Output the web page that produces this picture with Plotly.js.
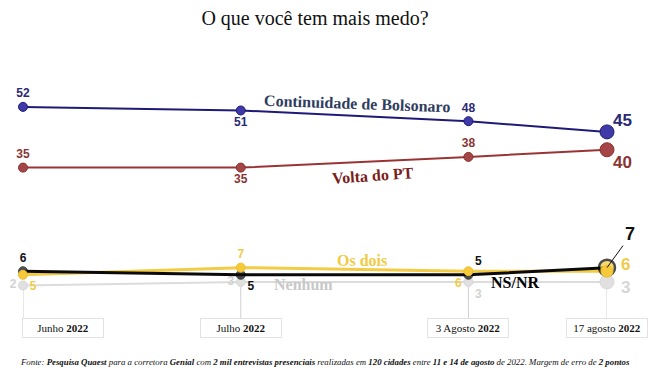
<!DOCTYPE html>
<html><head><meta charset="utf-8">
<script src="https://cdn.plot.ly/plotly-3.0.1.min.js"></script>
<style>body{margin:0;background:#fff}#c{width:650px;height:372px}</style>
</head><body><div id="c"></div>
<script>
// Data
const surveyDates = ['2022-06-19','2022-07-11','2022-08-03','2022-08-17'];
const tickLabels = ['Junho <b>2022</b>','Julho <b>2022</b>','3 Agosto <b>2022</b>','17 agosto <b>2022</b>'];
const bolsonaro = [52, 51, 48, 45];
const voltaPT = [35, 35, 38, 40];
const osDois = [5, 7, 6, 6];
const nsnr = [6, 5, 5, 7];
const nenhum = [2, 3, 3, 3];

const serif = 'Liberation Serif, Times New Roman, serif';
const sans = 'Liberation Sans, Arial, sans-serif';
const last = surveyDates.length - 1;

function lineTrace(y, color, width) {
  return {x: surveyDates, y: y, type: 'scatter', mode: 'lines', line: {color: color, width: width},
          cliponaxis: false, hoverinfo: 'skip', showlegend: false};
}
function markTrace(y, markerColor, outline, textColor, pos, big) {
  return {
    x: surveyDates, y: y, type: 'scatter', mode: 'markers+text',
    marker: {color: markerColor, opacity: 1, size: y.map((_, i) => i === last ? big : 9),
             line: {width: 1, color: outline}},
    text: y.map((v, i) => i === last ? '' : String(v)),
    textposition: pos,
    textfont: {family: sans, color: textColor, size: 12, weight: 700},
    cliponaxis: false, hoverinfo: 'skip', showlegend: false
  };
}

const traces = [
  lineTrace(nenhum, '#dcdcdc', 2),
  markTrace(nenhum, '#e0e0e0', '#d8d8d8', '#d2d2d2', ['middle left','middle left','bottom right','bottom right'], 14),
  lineTrace(osDois, '#f3cc45', 3),
  lineTrace(nsnr, '#0a0a0a', 3),
  Object.assign(markTrace(nsnr, '#0a0a0a', '#000', '#111111', ['top center','bottom right','top right','top center'], 16),
                {marker: {color: nsnr.map((_, i) => i === last ? '#f5c93a' : '#0a0a0a'), size: nsnr.map((_, i) => i === last ? 16 : 9),
                          line: {color: '#000', width: nsnr.map((_, i) => i === last ? 2.5 : 1)}}}),
  markTrace(osDois, '#f5c93a', '#eec035', '#f0cb4a', ['bottom right','top center','bottom left','middle right'], 12),
  lineTrace(voltaPT, '#9a3434', 2),
  markTrace(voltaPT, '#a54646', '#8a2e2e', '#8b3434', ['top center','bottom center','top center','bottom right'], 14),
  lineTrace(bolsonaro, '#1e1a78', 2),
  markTrace(bolsonaro, '#3f3aa8', '#1e1a78', '#2a2975', ['top center','bottom center','top center','top right'], 14)
];

const shapes = surveyDates.map((d, i) => ({
  type: 'line', xref: 'x', yref: 'y', x0: d, x1: d, y0: nenhum[i], y1: -7.1,
  line: {color: '#d0d0d0', width: 1}, layer: 'below'
}));

const annotations = surveyDates.map((d, i) => ({
  x: d, xref: 'x', y: 0, yref: 'paper', yanchor: 'top', xanchor: i === 0 ? 'left' : 'center',
  xshift: i === 0 ? -1 : 0, showarrow: false,
  text: tickLabels[i], font: {family: serif, size: 11, color: '#111'},
  bordercolor: '#e2e2e2', borderwidth: 1, borderpad: 3, bgcolor: '#fff', width: 74, height: 12
}));

// large end-point labels
function endLabel(y, color, dx, dy) {
  return {x: surveyDates[last], y: y[last], xref: 'x', yref: 'y', text: '<b>' + y[last] + '</b>',
          showarrow: false, xanchor: 'left', yanchor: 'middle', xshift: dx, yshift: dy,
          font: {family: sans, size: 17, color: color}};
}
annotations.push(
  endLabel(bolsonaro, '#2a2975', 4, 11),
  endLabel(voltaPT, '#8b3434', 4, -13),
  endLabel(osDois, '#f0cb4a', 12, 7),
  endLabel(nenhum, '#d6d6d6', 12, -6),
  {x: surveyDates[last], y: nsnr[last], xref: 'x', yref: 'y', text: '<b>' + nsnr[last] + '</b>', showarrow: true,
   arrowhead: 0, arrowwidth: 1, arrowcolor: '#111', ax: 16, ay: -22, xanchor: 'left', yanchor: 'bottom',
   font: {family: sans, size: 18, color: '#111'}},
  {x: 0.572, y: 0.968, xref: 'paper', yref: 'paper', xanchor: 'center', yanchor: 'middle', text: '<b>Continuidade de Bolsonaro</b>', showarrow: false,
   textangle: 2, font: {family: serif, size: 16, color: '#2f3d5e'}},
  {x: 0.599, y: 0.644, xref: 'paper', yref: 'paper', xanchor: 'center', yanchor: 'middle', text: '<b>Volta do PT</b>', showarrow: false,
   textangle: -4, font: {family: serif, size: 16, color: '#7a1c1c'}},
  {x: 0.580, y: 0.257, xref: 'paper', yref: 'paper', xanchor: 'center', yanchor: 'middle', text: '<b>Os dois</b>', showarrow: false,
   font: {family: serif, size: 16, color: '#f2cb45'}},
  {x: 0.481, y: 0.149, xref: 'paper', yref: 'paper', xanchor: 'center', yanchor: 'middle', text: '<b>Nenhum</b>', showarrow: false,
   font: {family: serif, size: 16, color: '#c8c8c8'}},
  {x: 0.842, y: 0.158, xref: 'paper', yref: 'paper', xanchor: 'center', yanchor: 'middle', text: '<b>NS/NR</b>', showarrow: false,
   font: {family: serif, size: 16, color: '#000'}},
  {x: 0.517, y: -0.198, xref: 'paper', yref: 'paper', xanchor: 'center', yanchor: 'middle', showarrow: false,
   text: '<i>Fonte: <b>Pesquisa Quaest</b> para a corretora <b>Genial</b> com <b>2 mil entrevistas presenciais</b> realizadas em <b>120 cidades</b> entre <b>11 e 14 de agosto</b> de 2022. Margem de erro de <b>2 pontos</b></i>',
   font: {family: serif, size: 8.8, color: '#111'}}
);

const layout = {
  width: 650, height: 372,
  margin: {l: 23, r: 43, t: 96, b: 54},
  paper_bgcolor: '#fff', plot_bgcolor: '#fff',
  title: {text: 'O que você tem mais medo?', x: 0.5, xref: 'paper', xanchor: 'center', y: 0.951, yanchor: 'middle',
          font: {family: serif, size: 20, color: '#111'}},
  xaxis: {type: 'date', range: [surveyDates[0], surveyDates[last]], showgrid: false, zeroline: false,
          showticklabels: false, showline: false, ticks: ''},
  yaxis: {range: [-7.1, 55.05], showgrid: false, zeroline: false, showticklabels: false, showline: false, ticks: ''},
  shapes: shapes, annotations: annotations
};

Plotly.newPlot('c', traces, layout, {displayModeBar: false, staticPlot: true});
</script></body></html>
